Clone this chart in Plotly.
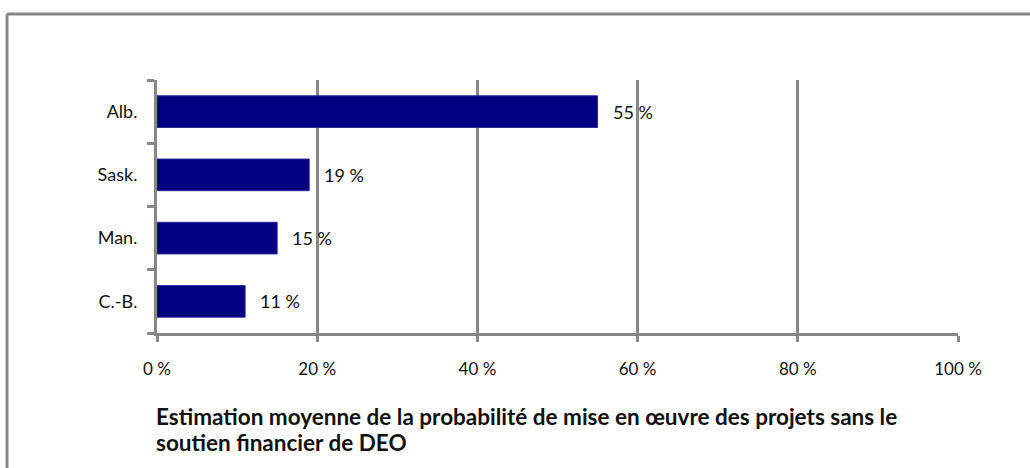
import plotly.graph_objects as go

# Provinces, top to bottom, and their mean estimated probability
provinces = ["Alb.", "Sask.", "Man.", "C.-B."]
probabilities = [0.55, 0.19, 0.15, 0.11]
tick_values = [0, 0.2, 0.4, 0.6, 0.8, 1.0]
tick_labels = ["0 %", "20 %", "40 %", "60 %", "80 %", "100 %"]
title_lines = [
    "Estimation moyenne de la probabilité de mise en œuvre des projets sans le",
    "soutien financier de DEO",
]

FONT = "Lato"
GRAY = "#878787"
NAVY = "#000080"
TEXT = "#111111"

W, H = 1030, 468
ML, MR, MT, MB = 157, 72, 80, 135
PW, PH = W - ML - MR, H - MT - MB


def px_to_paper_x(px):
    return (px - ML) / PW


def px_to_paper_y(py):
    return 1 - (py - MT) / PH


fig = go.Figure()
fig.add_trace(go.Bar(
    x=probabilities,
    y=provinces,
    orientation="h",
    marker=dict(color=NAVY, line=dict(color="#2a2a9a", width=1)),
    hoverinfo="skip",
))

# Value labels just right of each bar end
for prov, val in zip(provinces, probabilities):
    fig.add_annotation(
        x=val, y=prov, xref="x", yref="y",
        text=f"{round(val * 100)} %",
        showarrow=False, xanchor="left", xshift=13,
        font=dict(family=FONT, size=18, color=TEXT),
    )

# Caption below the axis, one annotation per line
for i, line in enumerate(title_lines):
    fig.add_annotation(
        x=px_to_paper_x(154), y=px_to_paper_y(416 + 26 * i),
        xref="paper", yref="paper",
        text=f"<b>{line}</b>", showarrow=False,
        xanchor="left", yanchor="middle", align="left",
        font=dict(family=FONT, size=22.5, color=TEXT),
    )

# Chart frame (top and left edges visible)
fig.add_shape(type="line", xref="paper", yref="paper",
              x0=px_to_paper_x(7), x1=px_to_paper_x(W + 20),
              y0=px_to_paper_y(14), y1=px_to_paper_y(14),
              line=dict(color=GRAY, width=3))
fig.add_shape(type="line", xref="paper", yref="paper",
              x0=px_to_paper_x(7), x1=px_to_paper_x(7),
              y0=px_to_paper_y(14), y1=px_to_paper_y(H + 20),
              line=dict(color=GRAY, width=3))

fig.update_layout(
    width=W, height=H,
    margin=dict(l=ML, r=MR, t=MT, b=MB),
    plot_bgcolor="white", paper_bgcolor="white",
    bargap=0.5,
    showlegend=False,
    font=dict(family=FONT, size=17, color=TEXT),
    xaxis=dict(
        range=[0, 1],
        tickvals=tick_values, ticktext=tick_labels,
        tickfont=dict(family=FONT, size=17, color=TEXT),
        showgrid=True, gridcolor=GRAY, gridwidth=3,
        showline=True, linecolor=GRAY, linewidth=3,
        ticks="outside", ticklen=6, tickwidth=3, tickcolor=GRAY,
        ticklabelstandoff=13,
        zeroline=False, fixedrange=True,
    ),
    yaxis=dict(
        categoryorder="array", categoryarray=provinces[::-1],
        tickfont=dict(family=FONT, size=18, color=TEXT),
        showgrid=False,
        showline=True, linecolor=GRAY, linewidth=3,
        ticks="outside", ticklen=7, tickwidth=3, tickcolor=GRAY,
        tickson="boundaries",
        ticklabelstandoff=13,
        zeroline=False, fixedrange=True,
    ),
)

fig.write_html("out.html", config={"displayModeBar": False})
